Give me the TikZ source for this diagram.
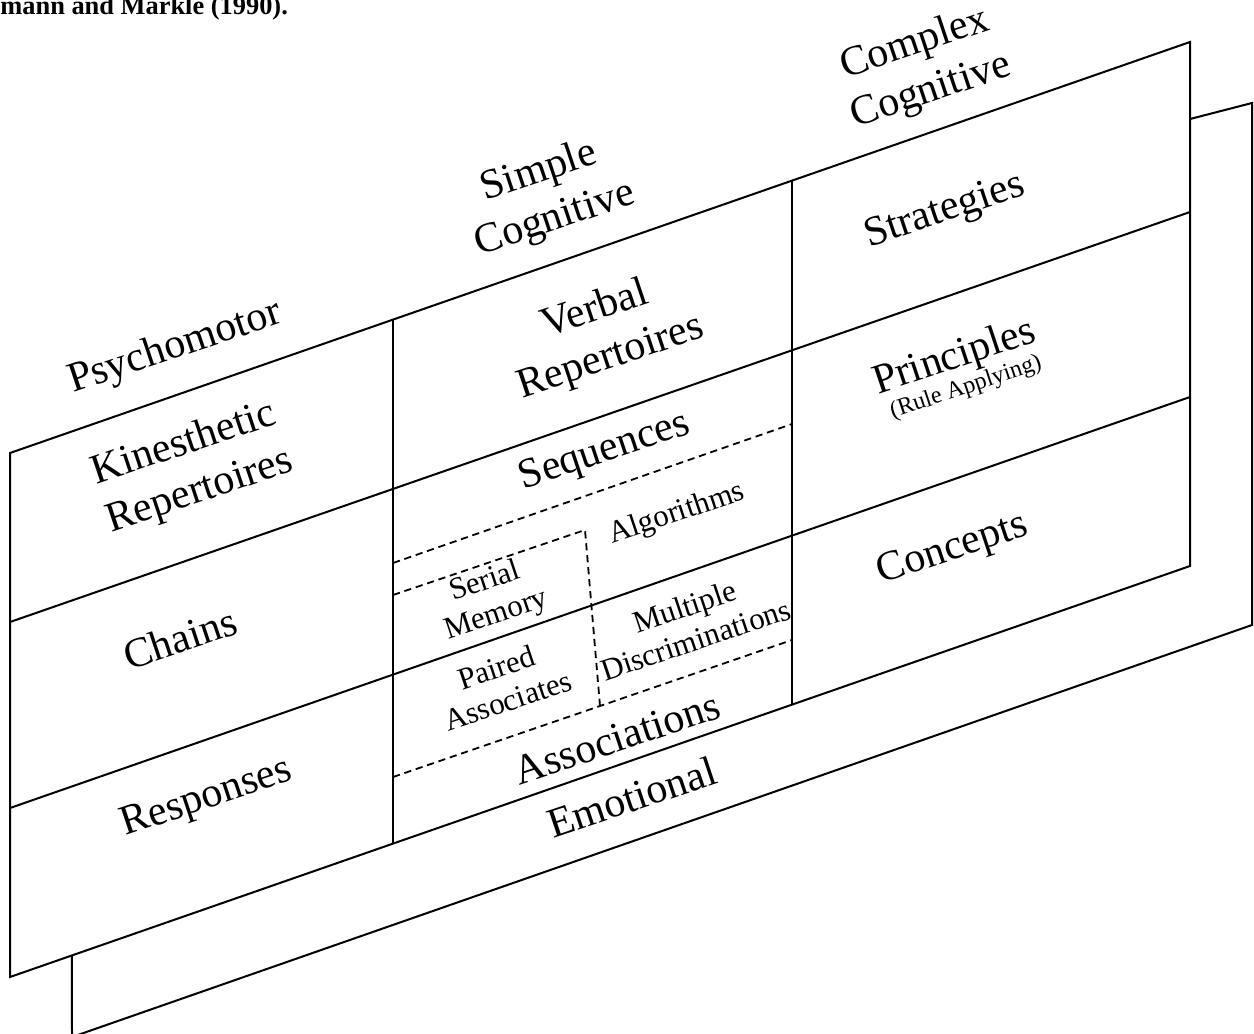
\documentclass[tikz,border=0pt]{standalone}
\usepackage{fontspec}
\setmainfont{Liberation Serif}
\usetikzlibrary{calc,positioning}

\tikzset{
  cell/.style={rotate=18.5, align=center, inner sep=0pt, font=\fontsize{21}{25}\selectfont},
  subcell/.style={cell, font=\fontsize{15.5}{17.5}\selectfont},
  note/.style={cell, font=\fontsize{12}{14}\selectfont},
  grid/.style={line width=1pt},
  subgrid/.style={line width=0.9pt, dash pattern=on 3.6pt off 2.4pt},
}

\begin{document}
\begin{tikzpicture}[x=0.5pt,y=-0.5pt]

\useasboundingbox (0,0) rectangle (1254,1034);

\node[anchor=base west, inner sep=0pt, font=\fontsize{13.2}{15}\selectfont\bfseries] (title) at (0,14) {mann and Markle (1990).};

% front panel
\coordinate (ftl) at (10,453);
\coordinate (ftr) at (1190,42);
\coordinate (fbr) at (1190,566);
\coordinate (fbl) at (10,977);

\coordinate (r1l) at (10,622);
\coordinate (r1r) at (1190,212);
\coordinate (r2l) at (10,808);
\coordinate (r2r) at (1190,397);

\coordinate (c1t) at (393,320);
\coordinate (c1b) at (393,844);
\coordinate (c2t) at (792,181);
\coordinate (c2b) at (792,705);

\draw [grid] (ftl) -- (ftr) -- (fbr) -- (fbl) -- cycle;
\draw [grid] (r1l) -- (r1r);
\draw [grid] (r2l) -- (r2r);
\draw [grid] (c1t) -- (c1b);
\draw [grid] (c2t) -- (c2b);

% back panel, only the visible part
\coordinate (bjoin) at (1190,119);
\coordinate (btr) at (1252,103);
\coordinate (bbr) at (1252,625);
\coordinate (bbl) at (72,1037);
\coordinate (bjoin2) at ($(fbl)!{62/1180}!(fbr)$);

\draw [grid] (bjoin) -- (btr) -- (bbr) -- (bbl) -- (bjoin2);

% dashed splits in the middle column
\coordinate (d1l) at (393,563);
\coordinate (d1r) at (792,424);
\coordinate (d2l) at (393,595);
\coordinate (d2r) at (585,530);
\coordinate (d2b) at (600,706);
\coordinate (d3l) at (393,777);
\coordinate (d3r) at (792,640);

\draw [subgrid] (d1l) -- (d1r);
\draw [subgrid] (d2l) -- (d2r) -- (d2b);
\draw [subgrid] (d3l) -- (d2b) -- (d3r);

% headers
\node[cell] (psycho) at (175,348) {Psychomotor};
\node[cell] (simple) at (547,196) {Simple\\Cognitive};
\node[cell] (complex) at (923,68) {Complex\\Cognitive};

% left column
\node[cell] (kines) at (192,468) {Kinesthetic\\Repertoires};
\node[cell] (chains) at (180,638) {Chains};
\node[cell] (resp) at (207,799) {Responses};

% middle column
\node[cell] (verbal) at (603,334) {Verbal\\Repertoires};
\node[cell] (seq) at (605,452) {Sequences};
\node[subcell] (algo) at (677,514) {Algorithms};
\node[subcell] (serial) at (491,599) {Serial\\Memory};
\node[subcell] (paired) at (502,684) {Paired\\Associates};
\node[subcell] (multi) at (690,623) {Multiple\\Discriminations};
\node[cell] (assoc) at (617,738) {Associations};

% right column
\node[cell] (strat) at (945,212) {Strategies};
\node[cell] (princ) at (955,358) {Principles};
\node[note] (rule) at (966,388) {(Rule Applying)};
\node[cell] (concepts) at (953,550) {Concepts};

% back panel
\node[cell] (emot) at (632,797) {Emotional};

\end{tikzpicture}
\end{document}
